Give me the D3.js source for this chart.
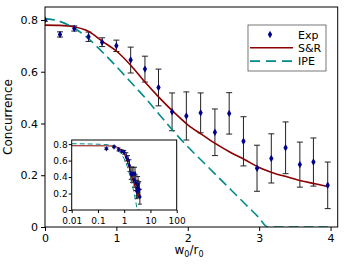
<!DOCTYPE html>
<html>
<head>
<meta charset="utf-8">
<script src="https://cdn.jsdelivr.net/npm/d3@7"></script>
<style>
  body { margin: 0; background: #fff; }
  svg { font-family: "DejaVu Sans", sans-serif; }
</style>
</head>
<body>
<svg id="chart" width="347" height="264"></svg>
<script>
// experimental points
var expX = [0, 0.21, 0.41, 0.61, 0.80, 1.0, 1.2, 1.4, 1.59, 1.78, 1.98, 2.18, 2.38, 2.58, 2.78, 2.97, 3.17, 3.37, 3.57, 3.76, 3.96];
var expY = [0.80, 0.744, 0.767, 0.735, 0.714, 0.70, 0.645, 0.61, 0.539, 0.445, 0.429, 0.441, 0.366, 0.439, 0.331, 0.227, 0.265, 0.306, 0.241, 0.251, 0.161];
var expErr = [0.005, 0.01, 0.01, 0.018, 0.017, 0.022, 0.05, 0.05, 0.071, 0.073, 0.093, 0.077, 0.09, 0.08, 0.095, 0.089, 0.095, 0.1, 0.087, 0.093, 0.09];

// S&R curve
var srX = [0, 0.2, 0.4, 0.6, 0.8, 1.0, 1.2, 1.4, 1.6, 1.8, 2.0, 2.2, 2.4, 2.6, 2.8, 3.0, 3.2, 3.4, 3.6, 3.8, 3.96];
var srY = [0.78, 0.779, 0.774, 0.757, 0.718, 0.68, 0.625, 0.56, 0.50, 0.445, 0.395, 0.357, 0.32, 0.288, 0.26, 0.23, 0.209, 0.193, 0.178, 0.166, 0.156];

// IPE curve
var ipeX = [0, 0.2, 0.4, 0.6, 0.8, 1.0, 1.2, 1.4, 1.6, 1.8, 2.0, 2.2, 2.4, 2.6, 2.8, 3.0, 3.12, 3.5, 3.96];
var ipeY = [0.805, 0.795, 0.77, 0.73, 0.677, 0.62, 0.56, 0.50, 0.435, 0.37, 0.31, 0.255, 0.20, 0.145, 0.09, 0.035, 0, 0, 0];

var yTicks = [0, 0.2, 0.4, 0.6, 0.8];
var xTicks = [0, 1, 2, 3, 4];
var insetXTicks = [0.01, 0.1, 1, 10, 100];
var legendLabels = ["Exp", "S&R", "IPE"];

var cRed = "#8b0000", cTeal = "#008b8b", cBlue = "#00008b";

var svg = d3.select("#chart");

var x = d3.scaleLinear().domain([0, 4.1]).range([45, 337.7]);
var y = d3.scaleLinear().domain([0, 0.85]).range([227, 7]);

var fmtY = function(d) { return d === 0 ? "0" : d3.format(".1f")(d); };

var pts = expX.map(function(d, i) { return {x: d, y: expY[i], e: expErr[i]}; });
var sr = srX.map(function(d, i) { return [d, srY[i]]; });
var ipe = ipeX.map(function(d, i) { return [d, ipeY[i]]; });

svg.append("clipPath").attr("id", "clipMain").append("rect")
  .attr("x", 45).attr("y", 7).attr("width", 337.7 - 45).attr("height", 220);

function drawPlot(g, xs, ys, opt) {
  var line = d3.line().curve(d3.curveMonotoneX)
    .x(function(d) { return xs(d[0]); })
    .y(function(d) { return ys(d[1]); });

  var plot = g.append("g").attr("clip-path", opt.clip);

  var p = pts.filter(function(d) { return opt.log ? d.x > 0 : true; });

  plot.selectAll(".eb").data(p).enter().append("line")
    .attr("x1", function(d) { return xs(d.x); })
    .attr("x2", function(d) { return xs(d.x); })
    .attr("y1", function(d) { return ys(d.y - d.e); })
    .attr("y2", function(d) { return ys(d.y + d.e); })
    .attr("stroke", "#222").attr("stroke-width", 1);
  [-1, 1].forEach(function(s) {
    plot.selectAll(".cap" + s).data(p).enter().append("line")
      .attr("x1", function(d) { return xs(d.x) - opt.cap; })
      .attr("x2", function(d) { return xs(d.x) + opt.cap; })
      .attr("y1", function(d) { return ys(d.y + s * d.e); })
      .attr("y2", function(d) { return ys(d.y + s * d.e); })
      .attr("stroke", "#222").attr("stroke-width", 1);
  });

  plot.append("path").datum(sr).attr("d", line)
    .attr("fill", "none").attr("stroke", cRed).attr("stroke-width", opt.lw);
  plot.append("path").datum(ipe).attr("d", line)
    .attr("fill", "none").attr("stroke", cTeal).attr("stroke-width", opt.lw)
    .attr("stroke-dasharray", opt.dash);

  plot.selectAll(".pt").data(p).enter().append("path")
    .attr("d", d3.symbol().type(d3.symbolDiamond).size(opt.sym))
    .attr("transform", function(d) { return "translate(" + xs(d.x) + "," + ys(d.y) + ")"; })
    .attr("fill", cBlue);
}

// main plot
drawPlot(svg, x, y, {clip: "url(#clipMain)", lw: 1.6, dash: "10,5", cap: 3, sym: 16, log: false});

svg.append("rect").attr("x", 45).attr("y", 7).attr("width", 337.7 - 45).attr("height", 220)
  .attr("fill", "none").attr("stroke", "#000").attr("stroke-width", 1);

var xAxis = svg.append("g").attr("transform", "translate(0,227)")
  .call(d3.axisBottom(x).tickValues(xTicks).tickFormat(d3.format("d")).tickSizeOuter(0).tickSize(4));
var yAxis = svg.append("g").attr("transform", "translate(45,0)")
  .call(d3.axisLeft(y).tickValues(yTicks).tickFormat(fmtY).tickSizeOuter(0).tickSize(4));
[xAxis, yAxis].forEach(function(a) {
  a.select(".domain").remove();
  a.selectAll("text").attr("font-size", 11).attr("font-family", "DejaVu Sans").attr("fill", "#000");
});

// axis titles
svg.append("text").attr("transform", "translate(12,117) rotate(-90)")
  .attr("text-anchor", "middle").attr("font-size", 12).text("Concurrence");
var xl = svg.append("text").attr("x", 189).attr("y", 254).attr("text-anchor", "middle").attr("font-size", 12);
xl.append("tspan").text("w");
xl.append("tspan").attr("font-size", 8).attr("dy", 3).text("0");
xl.append("tspan").attr("dy", -3).text("/r");
xl.append("tspan").attr("font-size", 8).attr("dy", 3).text("0");

// legend
var lg = svg.append("g");
lg.append("rect").attr("x", 248).attr("y", 25).attr("width", 78).attr("height", 46)
  .attr("fill", "#fff").attr("stroke", "#555").attr("stroke-width", 0.8);
legendLabels.forEach(function(t, i) {
  var ly = 34.5 + i * 13.3;
  if (i === 0) {
    lg.append("path").attr("d", d3.symbol().type(d3.symbolDiamond).size(16))
      .attr("transform", "translate(270," + ly + ")").attr("fill", cBlue);
  } else {
    lg.append("line").attr("x1", 250).attr("x2", 293).attr("y1", ly).attr("y2", ly)
      .attr("stroke", i === 1 ? cRed : cTeal).attr("stroke-width", 1.6)
      .attr("stroke-dasharray", i === 2 ? "10,6" : null);
  }
  lg.append("text").attr("x", 298).attr("y", ly + 4).attr("font-size", 11).text(t);
});

// inset
var ix = d3.scaleLog().domain([0.01, 100]).range([71.7, 176.7]).clamp(true);
var iy = d3.scaleLinear().domain([0, 0.85]).range([210, 140]);

svg.append("clipPath").attr("id", "clipInset").append("rect")
  .attr("x", 71.7).attr("y", 140).attr("width", 105).attr("height", 70);

var inset = svg.append("g");
inset.append("rect").attr("x", 71.7).attr("y", 140).attr("width", 105).attr("height", 70).attr("fill", "#fff");
drawPlot(inset, ix, iy, {clip: "url(#clipInset)", lw: 1, dash: "5,3", cap: 2, sym: 9, log: true});
inset.append("rect").attr("x", 71.7).attr("y", 140).attr("width", 105).attr("height", 70)
  .attr("fill", "none").attr("stroke", "#000").attr("stroke-width", 1);

var ixAxis = inset.append("g").attr("transform", "translate(0,210)")
  .call(d3.axisBottom(ix).tickValues(insetXTicks).tickFormat(function(d) { return String(d); }).tickSizeOuter(0).tickSize(3));
var iyAxis = inset.append("g").attr("transform", "translate(71.7,0)")
  .call(d3.axisLeft(iy).tickValues(yTicks).tickFormat(fmtY).tickSizeOuter(0).tickSize(3));
[ixAxis, iyAxis].forEach(function(a) {
  a.select(".domain").remove();
  a.selectAll("text").attr("font-size", 9).attr("font-family", "DejaVu Sans").attr("fill", "#000");
});
ixAxis.selectAll("text").attr("dy", "0.85em");
iyAxis.selectAll("text").attr("x", -4);
</script>
</body>
</html>
